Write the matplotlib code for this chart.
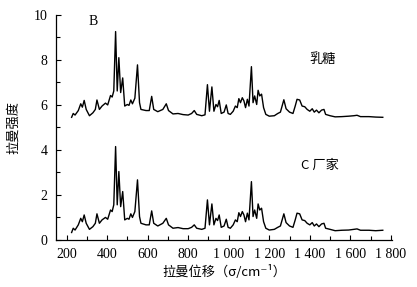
import matplotlib
matplotlib.use("Agg")
import matplotlib.pyplot as plt
from matplotlib.ticker import MultipleLocator, FixedLocator

raman_shift = [
    225, 233, 242, 258, 270, 278, 287, 297, 313, 330,
    342, 350, 362, 375, 392, 403, 417, 425, 433, 442,
    450, 458, 467, 477, 487, 500, 508, 517, 525, 537,
    550, 560, 567, 592, 608, 620, 630, 650, 675, 692,
    703, 725, 750, 775, 800, 817, 830, 842, 867, 883,
    895, 905, 917, 927, 937, 945, 953, 963, 977, 988,
    997, 1008, 1022, 1033, 1042, 1050, 1058, 1067, 1075, 1083,
    1092, 1100, 1112, 1120, 1128, 1138, 1145, 1153, 1162, 1172,
    1183, 1200, 1225, 1242, 1255, 1272, 1283, 1300, 1317, 1328,
    1337, 1350, 1362, 1375, 1387, 1400, 1412, 1422, 1433, 1445,
    1458, 1470, 1478, 1500, 1525, 1558, 1592, 1617, 1633, 1650,
    1692, 1725, 1760,
]

lactose = [
    5.45, 5.62, 5.55, 5.75, 6.05, 5.90, 6.20, 5.80, 5.52, 5.65,
    5.80, 6.22, 5.80, 5.95, 6.08, 6.00, 6.42, 6.35, 6.62, 9.26,
    6.62, 8.10, 6.55, 7.20, 5.95, 6.02, 5.98, 6.22, 6.05, 6.30,
    7.78, 6.10, 5.80, 5.75, 5.75, 6.38, 5.80, 5.70, 5.80, 6.05,
    5.75, 5.60, 5.62, 5.57, 5.55, 5.62, 5.75, 5.58, 5.52, 5.56,
    6.90, 5.72, 6.80, 5.72, 6.02, 5.92, 6.20, 5.62, 5.68, 6.00,
    5.62, 5.58, 5.72, 5.95, 5.88, 6.28, 6.10, 6.32, 6.18, 5.88,
    6.25, 5.95, 7.70, 6.10, 6.40, 6.02, 6.65, 6.40, 6.48, 5.88,
    5.58, 5.50, 5.52, 5.62, 5.68, 6.23, 5.83, 5.68, 5.62, 5.95,
    6.25, 6.22, 5.95, 5.92, 5.80, 5.72, 5.83, 5.68, 5.77, 5.65,
    5.77, 5.80, 5.58, 5.52, 5.47, 5.48, 5.50, 5.52, 5.54, 5.48,
    5.48, 5.46, 5.45,
]

factory_c = [
    0.33, 0.52, 0.44, 0.67, 0.96, 0.81, 1.11, 0.74, 0.47, 0.59,
    0.74, 1.16, 0.74, 0.89, 1.00, 0.92, 1.33, 1.26, 1.56, 4.15,
    1.56, 3.04, 1.48, 2.15, 0.89, 0.96, 0.92, 1.16, 1.00, 1.26,
    2.67, 1.04, 0.74, 0.67, 0.67, 1.29, 0.74, 0.62, 0.74, 0.96,
    0.67, 0.52, 0.55, 0.50, 0.50, 0.56, 0.67, 0.52, 0.47, 0.52,
    1.78, 0.67, 1.60, 0.67, 0.96, 0.86, 1.11, 0.56, 0.62, 0.92,
    0.56, 0.52, 0.67, 0.89, 0.81, 1.21, 1.04, 1.26, 1.11, 0.81,
    1.19, 0.89, 2.59, 1.04, 1.33, 0.96, 1.60, 1.33, 1.41, 0.81,
    0.52, 0.44, 0.47, 0.56, 0.62, 1.16, 0.77, 0.62, 0.56, 0.89,
    1.19, 1.16, 0.89, 0.86, 0.74, 0.67, 0.77, 0.62, 0.71, 0.59,
    0.71, 0.74, 0.52, 0.47, 0.41, 0.43, 0.44, 0.47, 0.49, 0.43,
    0.43, 0.41, 0.43,
]

x_ticks = [200, 400, 600, 800, 1000, 1200, 1400, 1600, 1800]
x_tick_labels = ["200", "400", "600", "800", "1 000", "1 200", "1 400", "1 600", "1 800"]
y_ticks = [0, 2, 4, 6, 8, 10]
y_tick_labels = ["0", "2", "4", "6", "8", "10"]

CJK = ["Noto Sans CJK SC", "DejaVu Sans"]
SERIF = ["Liberation Serif", "DejaVu Serif"]

fig = plt.figure(figsize=(4.17, 2.87), dpi=100)
ax = fig.add_axes([0.1343, 0.164, 0.806, 0.784])

ax.plot(raman_shift, lactose, color="black", lw=1.0)
ax.plot(raman_shift, factory_c, color="black", lw=1.0)

ax.set_xlim(148, 1806)
ax.set_ylim(0, 10)

for s in ("top", "right"):
    ax.spines[s].set_visible(False)
for s in ("left", "bottom"):
    ax.spines[s].set_linewidth(0.9)

ax.xaxis.set_major_locator(FixedLocator(x_ticks))
ax.set_xticklabels(x_tick_labels, fontfamily=SERIF, fontsize=10)
ax.xaxis.set_minor_locator(MultipleLocator(100))
ax.yaxis.set_major_locator(FixedLocator(y_ticks))
ax.set_yticklabels(y_tick_labels, fontfamily=SERIF, fontsize=10)
ax.yaxis.set_minor_locator(MultipleLocator(1))

ax.tick_params(which="major", direction="in", length=3.5, width=0.8, pad=6, color="black")
ax.tick_params(which="minor", direction="in", length=3.0, width=0.8, color="black")

ax.set_xlabel("拉曼位移（σ/cm⁻¹）", fontfamily=CJK, fontsize=9.5, labelpad=3)
ax.set_ylabel("拉曼强度", fontfamily=CJK, fontsize=9.5, labelpad=10)

ax.text(330, 9.7, "B", fontfamily=SERIF, fontsize=10, ha="center", va="center")
ax.text(1461, 8.0, "乳糖", fontfamily=CJK, fontsize=9.5, ha="center", va="center")
ax.text(1451, 3.33, "C 厂家", fontfamily=CJK, fontsize=9.5, ha="center", va="center")

fig.savefig("out.png", dpi=100)
